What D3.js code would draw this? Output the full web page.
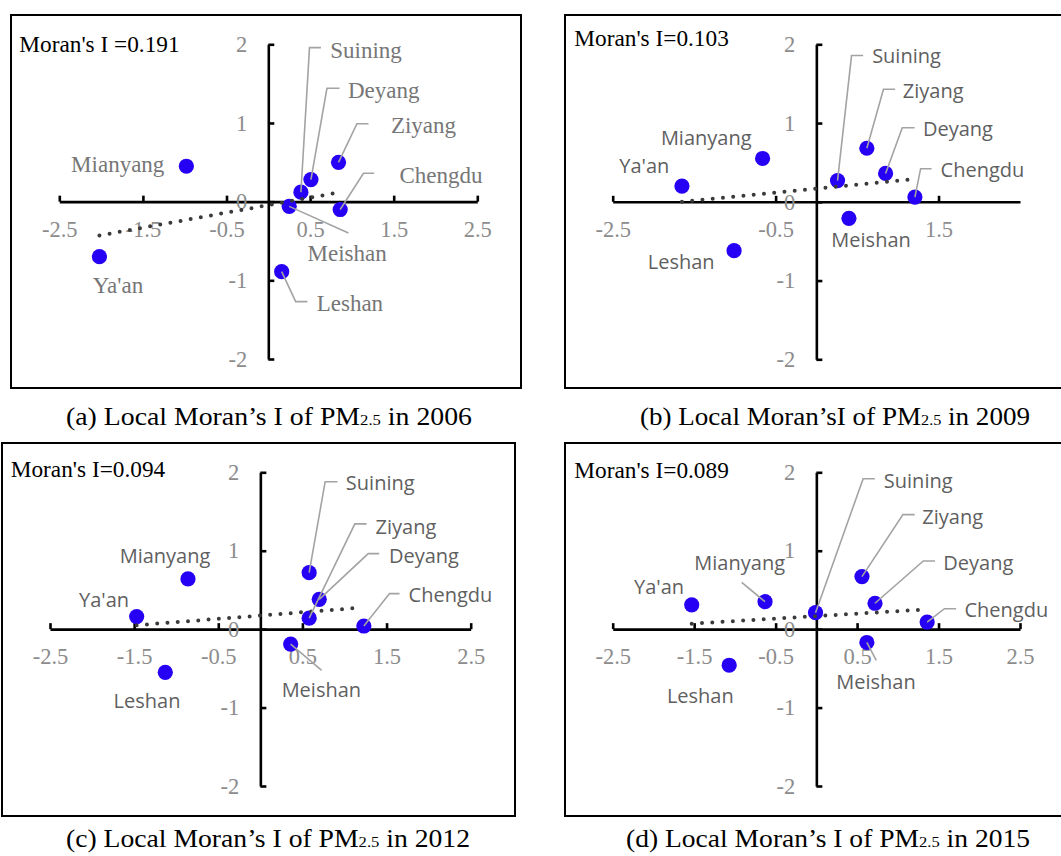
<!DOCTYPE html>
<html>
<head>
<meta charset="utf-8">
<script src="https://cdn.jsdelivr.net/npm/d3@7"></script>
<style>
body{margin:0;background:#fff;}
svg{display:block;}
</style>
</head>
<body>
<script>
// cities in the same order for every year
const cities=["Chengdu","Deyang","Mianyang","Suining","Ziyang","Meishan","Leshan","Ya'an"];

// standardized PM2.5 (x) and its spatial lag (y)
const z2006=[0.86,0.51,-0.98,0.39,0.84,0.25,0.16,-2.02];
const lag2006=[-0.10,0.28,0.45,0.12,0.50,-0.06,-0.89,-0.70];
const z2009=[1.21,0.85,-0.66,0.26,0.62,0.40,-1.01,-1.65];
const lag2009=[0.06,0.36,0.55,0.27,0.68,-0.21,-0.62,0.20];
const z2012=[1.23,0.70,-0.86,0.58,0.58,0.36,-1.13,-1.47];
const lag2012=[0.04,0.38,0.64,0.72,0.14,-0.19,-0.55,0.16];
const z2015=[1.36,0.72,-0.63,-0.01,0.56,0.62,-1.07,-1.53];
const lag2015=[0.09,0.33,0.35,0.21,0.67,-0.17,-0.46,0.31];

// dotted trend line end points
const trend2006=[[-2.02,-0.43],[0.86,0.12]];
const trend2009=[[-1.65,0.00],[1.21,0.29]];
const trend2012=[[-1.47,0.05],[1.15,0.27]];
const trend2015=[[-1.53,0.07],[1.33,0.25]];

const moranText=["Moran's I =0.191","Moran's I=0.103","Moran's I=0.094","Moran's I=0.089"];
const captionHead=["(a) Local Moran\u2019s I of PM","(b) Local Moran\u2019sI of PM","(c) Local Moran\u2019s I of PM","(d) Local Moran\u2019s I of PM"];
const captionSub="2.5";
const years=["2006","2009","2012","2015"];

const xTicksFull=[-2.5,-1.5,-0.5,0.5,1.5,2.5];
const xTicks2009=[-2.5,-0.5,1.5];
const yTicks=[-2,-1,0,1,2];

// label placement, pixel offsets from the point: t = text, l = leader bends
const labelsA={
  "Chengdu":{t:[59.3,-35],l:[[23.3,-36.3],[34,-36.3]]},
  "Deyang":{t:[37,-89.6],l:[[16,-91.3],[28.6,-91.3]]},
  "Mianyang":{t:[-22,-2.7],end:true},
  "Suining":{t:[29.3,-142.3],l:[[8.6,-144.6],[20,-144.6]]},
  "Ziyang":{t:[52.4,-37.3],l:[[18.4,-38.6],[30,-38.6]]},
  "Meishan":{t:[18.3,46.6],l:[[59.3,26.6]]},
  "Leshan":{t:[35,31.6],l:[[14,30],[25.7,30]]},
  "Ya'an":{t:[-6.6,28.3]}
};
const labelsB={
  "Chengdu":{t:[25.7,-27],l:[[5.7,-28.4],[16.7,-28.4]]},
  "Deyang":{t:[37.3,-44],l:[[16.7,-45.7],[29,-45.7]]},
  "Mianyang":{t:[-101.7,-20.6]},
  "Suining":{t:[34.6,-124.3],l:[[14,-125],[25.6,-125]]},
  "Ziyang":{t:[36,-57.6],l:[[16.6,-59],[28.3,-59]]},
  "Meishan":{t:[-17.6,21.7]},
  "Leshan":{t:[-86.3,11.3]},
  "Ya'an":{t:[-62.7,-20.3]}
};
const labelsC={
  "Chengdu":{t:[44.7,-30.7],l:[[25.7,-32.4],[35.7,-32.4]]},
  "Deyang":{t:[69.7,-43],l:[[49,-45.7],[60,-45.7]]},
  "Mianyang":{t:[-68.3,-23]},
  "Suining":{t:[36.7,-89.4],l:[[16,-91],[28.3,-91]]},
  "Ziyang":{t:[66.4,-91.6],l:[[45.7,-94.3],[57.4,-94.3]]},
  "Meishan":{t:[-9,45.7],l:[[31,26.4]]},
  "Leshan":{t:[-51.7,28.4]},
  "Ya'an":{t:[-57.7,-16.7]}
};
const labelsD={
  "Chengdu":{t:[37.3,-11.7],l:[[17.3,-13.4],[29,-13.4]]},
  "Deyang":{t:[68.3,-40],l:[[48.3,-42.3],[60,-42.3]]},
  "Mianyang":{t:[-70.7,-38.4],l:[[-23.3,-19.4]]},
  "Suining":{t:[68.3,-131.6],l:[[47.6,-134],[59.3,-134]]},
  "Ziyang":{t:[60.4,-59.6],l:[[41,-62],[52.7,-62]]},
  "Meishan":{t:[-30.6,39.5],l:[[9.4,18]]},
  "Leshan":{t:[-62.3,31]},
  "Ya'an":{t:[-57.7,-17.7]}
};

const W=1061,H=856;
const SERIF="'Liberation Serif','Times New Roman',serif";
const SANS="'Open Sans','Noto Sans',sans-serif";

const panels=[
  {x:z2006,y:lag2006,trend:trend2006,labels:labelsA,xTicks:xTicksFull,labelFont:SERIF,labelSize:23,labelColor:"#767676",
   frame:[11,15,510,373],xr:[59.3,477.3],yr:[44.3,359],moran:[19.3,51.7],cap:[269,425,406]},
  {x:z2009,y:lag2009,trend:trend2009,labels:labelsB,xTicks:xTicks2009,labelFont:SANS,labelSize:20,labelColor:"#5f5f5f",
   frame:[565,15,500,373],xr:[612.7,1020],yr:[44.3,359.3],moran:[574.3,46],cap:[835,425,390]},
  {x:z2012,y:lag2012,trend:trend2012,labels:labelsC,xTicks:xTicksFull,labelFont:SANS,labelSize:20,labelColor:"#5f5f5f",
   frame:[2,443,513,373],xr:[50,470.7],yr:[472.3,786],moran:[10.7,476.7],cap:[268,847,404]},
  {x:z2015,y:lag2015,trend:trend2015,labels:labelsD,xTicks:xTicksFull,labelFont:SANS,labelSize:20,labelColor:"#5f5f5f",
   frame:[565,443,500,373],xr:[612.7,1020],yr:[472.3,786],moran:[574.3,478.3],cap:[828,847,404]}
];

const svg=d3.select("body").append("svg").attr("width",W).attr("height",H);

panels.forEach((p,i)=>{
  const g=svg.append("g");
  const x=d3.scaleLinear().domain([-2.5,2.5]).range(p.xr);
  const y=d3.scaleLinear().domain([2,-2]).range(p.yr);
  const x0=x(0),y0=y(0);

  g.append("rect")
    .attr("x",p.frame[0]).attr("y",p.frame[1])
    .attr("width",p.frame[2]).attr("height",p.frame[3])
    .attr("fill","none").attr("stroke","#000").attr("stroke-width",2);

  // horizontal axis, ticks point up
  const ax=g.append("g").attr("transform",`translate(0,${y0})`)
    .call(d3.axisBottom(x).tickValues(p.xTicks).tickSizeInner(-6).tickSizeOuter(0)
      .tickPadding(19).tickFormat(d=>String(d)));
  // vertical axis, ticks point right
  const ay=g.append("g").attr("transform",`translate(${x0},0)`)
    .call(d3.axisLeft(y).tickValues(yTicks).tickSizeInner(-6).tickSizeOuter(0)
      .tickPadding(21).tickFormat(d=>String(d)));
  [ax,ay].forEach(a=>{
    a.select(".domain").attr("stroke","#000").attr("stroke-width",2.6);
    a.selectAll(".tick line").attr("stroke","#000").attr("stroke-width",2.6);
    a.selectAll(".tick text").attr("fill","#8c8c8c")
      .style("font-family",SERIF).style("font-size","22.5px");
  });

  const pts=cities.map((c,k)=>({name:c,px:x(p.x[k]),py:y(p.y[k])}));

  g.selectAll("circle.pt").data(pts).enter().append("circle")
    .attr("class","pt")
    .attr("cx",d=>d.px).attr("cy",d=>d.py).attr("r",7.6)
    .attr("fill","#2600f5");

  g.append("path")
    .attr("d",d3.line().x(d=>x(d[0])).y(d=>y(d[1]))(p.trend))
    .attr("fill","none").attr("stroke","#3a3a3a").attr("stroke-width",4)
    .attr("stroke-linecap","round").attr("stroke-dasharray","0 10.3");

  // leader lines
  pts.forEach(d=>{
    const lab=p.labels[d.name];
    if(!lab.l) return;
    const line=[[d.px,d.py]].concat(lab.l.map(o=>[d.px+o[0],d.py+o[1]]));
    g.append("path").attr("d",d3.line()(line))
      .attr("fill","none").attr("stroke","#a3a3a3").attr("stroke-width",1.6);
  });

  g.selectAll("text.lab").data(pts).enter().append("text")
    .attr("class","lab")
    .attr("x",d=>d.px+p.labels[d.name].t[0])
    .attr("y",d=>d.py+p.labels[d.name].t[1])
    .attr("dy","0.35em")
    .attr("text-anchor",d=>p.labels[d.name].end?"end":"start")
    .attr("fill",p.labelColor)
    .style("font-family",p.labelFont).style("font-size",p.labelSize+"px")
    .text(d=>d.name);

  g.append("text").attr("x",p.moran[0]).attr("y",p.moran[1])
    .attr("fill","#000").style("font-family",SERIF).style("font-size","23.3px")
    .text(moranText[i]);

  const cap=svg.append("text").attr("x",p.cap[0]).attr("y",p.cap[1])
    .attr("text-anchor","middle").attr("fill","#000")
    .attr("textLength",p.cap[2]).attr("lengthAdjust","spacingAndGlyphs")
    .style("font-family",SERIF).style("font-size","25px");
  cap.append("tspan").text(captionHead[i]);
  cap.append("tspan").style("font-size","15px").text(captionSub);
  cap.append("tspan").text(" in "+years[i]);
});
</script>
</body>
</html>
